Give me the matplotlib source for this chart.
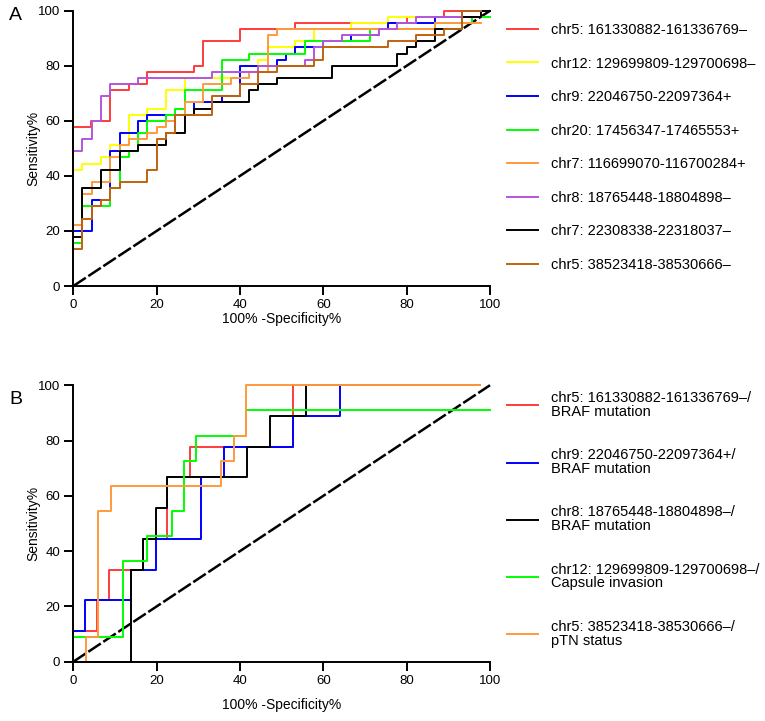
import matplotlib
matplotlib.use("Agg")
import matplotlib.pyplot as plt

plt.rcParams['font.family'] = ['Liberation Sans', 'DejaVu Sans']

# ---- panel A: ROC points (100% - specificity, sensitivity) ----
a_labels = ["chr5: 161330882-161336769\u2013",
            "chr12: 129699809-129700698\u2013",
            "chr9: 22046750-22097364+",
            "chr20: 17456347-17465553+",
            "chr7: 116699070-116700284+",
            "chr8: 18765448-18804898\u2013",
            "chr7: 22308338-22318037\u2013",
            "chr5: 38523418-38530666\u2013"]
a_colors = ["#ff3b3b", "#ffff00", "#0000ff", "#00ff00",
            "#ff9a3c", "#b455dd", "#000000", "#c0620f"]

a_red_x = [0, 0, 4.2, 8.8, 13.3, 17.8, 28.9, 31.1, 40, 53.3, 80, 88.9, 97.8]
a_red_y = [0, 57.8, 60, 71.1, 73.3, 77.8, 80, 88.9, 93.3, 95.6, 97.8, 100, 100]

a_yellow_x = [0, 0, 2.2, 6.7, 8.9, 13.3, 17.8, 22.2, 26.7, 40, 44.4, 46.7, 53.3, 57.8, 66.7, 75.6, 93.3, 97.8]
a_yellow_y = [0, 42.2, 44.4, 46.7, 51.1, 62.2, 64.4, 71.1, 75.6, 80, 82.2, 86.7, 88.9, 93.3, 95.6, 97.8, 100, 100]

a_blue_x = [0, 0, 4.4, 8.9, 11.1, 15.6, 17.8, 28.9, 35.6, 40, 48.9, 51.1, 53.3, 60, 66.7, 73.3, 75.6, 86.7, 93.3, 97.8]
a_blue_y = [0, 20, 31.1, 48.9, 55.6, 60, 62.2, 66.7, 68.9, 80, 82.2, 84.4, 86.7, 88.9, 91.1, 93.3, 95.6, 97.8, 100, 100]

a_green_x = [0, 0, 2.2, 8.9, 11.1, 13.3, 15.6, 17.8, 22.2, 24.4, 26.7, 35.6, 42.2, 55.6, 71.1, 86.7, 95.6, 100]
a_green_y = [0, 15.6, 28.9, 35.6, 46.7, 48.9, 55.6, 60, 62.2, 64.4, 71.1, 82.2, 84.4, 88.9, 93.3, 95.6, 97.8, 97.8]

a_orange_x = [0, 0, 2.2, 4.4, 8.9, 11.1, 13.3, 17.8, 20, 22.2, 24.4, 26.7, 31.1, 37.8, 42.2, 46.7, 48.9, 86.7, 97.8]
a_orange_y = [0, 22.2, 33.3, 37.8, 46.7, 51.1, 53.3, 55.6, 57.8, 60, 62.2, 66.7, 73.3, 75.6, 77.8, 91.1, 93.3, 95.6, 95.6]

a_purple_x = [0, 0, 2.2, 4.4, 6.7, 8.9, 15.6, 33.3, 44.4, 55.6, 57.8, 60, 64.4, 73.3, 77.8, 82.2, 97.8, 100]
a_purple_y = [0, 48.9, 53.3, 60, 68.9, 73.3, 75.6, 77.8, 80, 82.2, 86.7, 88.9, 91.1, 93.3, 95.6, 97.8, 100, 100]

a_black_x = [0, 0, 2.2, 6.7, 11.1, 15.6, 22.2, 26.7, 28.9, 33.3, 42.2, 44.4, 48.9, 62.2, 77.8, 80, 82.2, 86.7, 93.3, 97.8, 100]
a_black_y = [0, 17.8, 35.6, 42.2, 48.9, 51.1, 55.6, 62.2, 64.4, 66.7, 71.1, 73.3, 75.6, 80, 84.4, 86.7, 88.9, 93.3, 97.8, 100, 100]

a_brown_x = [0, 0, 2.2, 4.4, 6.7, 8.9, 11.1, 17.8, 20, 22.2, 24.4, 33.3, 40, 44.4, 48.9, 57.8, 60, 75.6, 82.2, 88.9, 93.3, 97.8]
a_brown_y = [0, 13.3, 24.4, 28.9, 31.1, 35.6, 37.8, 42.2, 53.3, 55.6, 62.2, 68.9, 73.3, 77.8, 80, 82.2, 86.7, 88.9, 91.1, 93.3, 100, 100]

# ---- panel B ----
b_labels = ["chr5: 161330882-161336769\u2013/\nBRAF mutation",
            "chr9: 22046750-22097364+/\nBRAF mutation",
            "chr8: 18765448-18804898\u2013/\nBRAF mutation",
            "chr12: 129699809-129700698\u2013/\nCapsule invasion",
            "chr5: 38523418-38530666\u2013/\npTN status"]
b_colors = ["#ff3b3b", "#0000ff", "#000000", "#00ff00", "#ff9a3c"]

b_red_x = [0, 0, 5.6, 8.5, 16.8, 22.4, 27.9, 52.8, 97.5]
b_red_y = [0, 11.1, 22.2, 33.3, 44.4, 66.7, 77.8, 100, 100]

b_blue_x = [0, 0, 2.8, 13.8, 19.8, 30.7, 36.1, 52.8, 64, 97.5]
b_blue_y = [0, 11.1, 22.2, 33.3, 44.4, 66.7, 77.8, 88.9, 100, 100]

b_black_x = [0, 13.8, 16.8, 19.8, 22.4, 41.8, 47.3, 55.8, 97.5]
b_black_y = [0, 33.3, 44.4, 55.6, 66.7, 77.8, 88.9, 100, 100]

b_green_x = [0, 0, 12, 17.7, 23.7, 26.6, 29.5, 41.4, 100]
b_green_y = [0, 9.1, 36.4, 45.5, 54.5, 72.7, 81.8, 90.9, 90.9]

b_orange_x = [3, 3, 5.9, 9, 35.5, 38.5, 41.4, 97.5]
b_orange_y = [0, 9.1, 54.5, 63.6, 72.7, 81.8, 100, 100]

ticks = [0, 20, 40, 60, 80, 100]


def style_axes(ax, xpad):
    ax.set_xlim(0, 100)
    ax.set_ylim(0, 100)
    ax.set_xticks(ticks)
    ax.set_yticks(ticks)
    for s in ["top", "right"]:
        ax.spines[s].set_visible(False)
    for s in ["left", "bottom"]:
        ax.spines[s].set_linewidth(1.4)
    ax.tick_params(direction="out", length=6.5, width=1.4, labelsize=9.5, pad=3)
    ax.set_xlabel("100% -Specificity%", fontsize=10, labelpad=xpad)
    ax.set_ylabel("Sensitivity%", fontsize=10, labelpad=-2)
    ax.plot([0, 100], [0, 100], color="black", lw=1.8, dashes=(6, 1.2), clip_on=False, zorder=1)


fig = plt.figure(figsize=(7.65, 7.21), dpi=100)
axA = fig.add_axes([0.0958, 0.6033, 0.5447, 0.3818])
axB = fig.add_axes([0.0958, 0.0822, 0.5447, 0.3835])

style_axes(axA, 0.5)
a_series = [(a_red_x, a_red_y), (a_yellow_x, a_yellow_y), (a_blue_x, a_blue_y),
            (a_green_x, a_green_y), (a_orange_x, a_orange_y), (a_purple_x, a_purple_y),
            (a_black_x, a_black_y), (a_brown_x, a_brown_y)]
for (xs, ys), c, lab in zip(a_series, a_colors, a_labels):
    axA.plot(xs, ys, drawstyle="steps-post", color=c, lw=1.4, label=lab, clip_on=False, zorder=2)

style_axes(axB, 8)
b_series = [(b_red_x, b_red_y), (b_blue_x, b_blue_y), (b_black_x, b_black_y),
            (b_green_x, b_green_y), (b_orange_x, b_orange_y)]
for (xs, ys), c, lab in zip(b_series, b_colors, b_labels):
    axB.plot(xs, ys, drawstyle="steps-post", color=c, lw=1.4, label=lab, clip_on=False, zorder=2)

legA = axA.legend(loc="upper left", bbox_to_anchor=(507 / 765, 1 - 23 / 721),
                  bbox_transform=fig.transFigure, frameon=False, fontsize=10.5,
                  borderpad=0, borderaxespad=0, handlelength=2.1, handletextpad=0.95,
                  labelspacing=1.34)
legB = axB.legend(loc="upper left", bbox_to_anchor=(507 / 765, 1 - 391 / 721),
                  bbox_transform=fig.transFigure, frameon=False, fontsize=10.5,
                  borderpad=0, borderaxespad=0, handlelength=2.1, handletextpad=0.95,
                  labelspacing=2.0)
for t in legB.get_texts():
    t.set_linespacing(1.0)

fig.text(9 / 765, 1 - 15 / 721, "A", fontsize=14, va="center", ha="left")
fig.text(9 / 765, 1 - 399 / 721, "B", fontsize=14, va="center", ha="left")

fig.savefig("out.png", dpi=100)
